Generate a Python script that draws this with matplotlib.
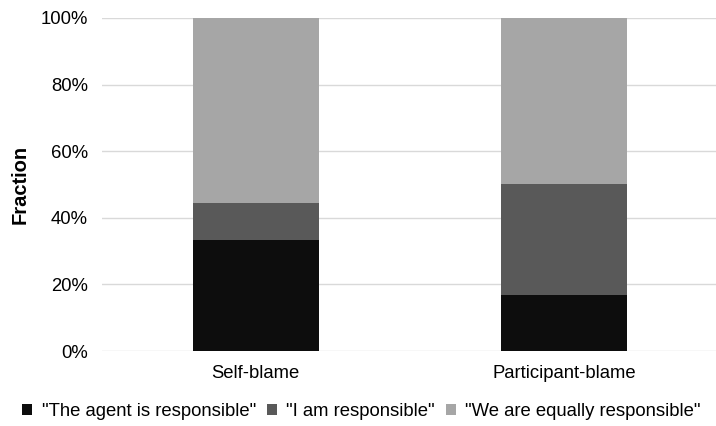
import numpy as np
import matplotlib.pyplot as plt
from matplotlib.ticker import PercentFormatter

plt.rcParams['font.family'] = ['Liberation Sans', 'DejaVu Sans']

categories = ['Self-blame', 'Participant-blame']
agent = [0.333, 0.167]
me = [0.111, 0.333]
equal = [0.556, 0.500]
labels = ['"The agent is responsible"', '"I am responsible"', '"We are equally responsible"']
colors = ['#0d0d0d', '#595959', '#a6a6a6']

fig = plt.figure(figsize=(7.16, 4.26), dpi=100)
ax = fig.add_axes([0.142, 0.176, 0.861, 0.782])

x = np.arange(len(categories))
bottom = np.zeros(len(categories))
for vals, lab, col in zip([agent, me, equal], labels, colors):
    ax.bar(x, vals, 0.41, bottom=bottom, color=col, label=lab, zorder=3)
    bottom += np.array(vals)

ax.set_xlim(-0.5, 1.5)
ax.set_ylim(0, 1)
ax.set_yticks(np.arange(0, 1.01, 0.2))
ax.yaxis.set_major_formatter(PercentFormatter(1.0, decimals=0))
ax.set_xticks(x)
ax.set_xticklabels(categories)
ax.grid(axis='y', color='#d9d9d9', lw=1, zorder=0)
for s in ax.spines.values():
    s.set_visible(False)
ax.tick_params(length=0, labelsize=13.3, colors='#000000')
ax.tick_params(axis='y', pad=10)
ax.tick_params(axis='x', pad=10)
ax.set_ylabel('Fraction', fontsize=14.5, fontweight='bold', labelpad=8)

fig.legend(loc='lower center', bbox_to_anchor=(0.505, -0.025), ncol=3, frameon=False,
           fontsize=13.3, handlelength=0.55, handleheight=0.55, handletextpad=0.5,
           columnspacing=0.6)

fig.savefig('out.png', dpi=100)
